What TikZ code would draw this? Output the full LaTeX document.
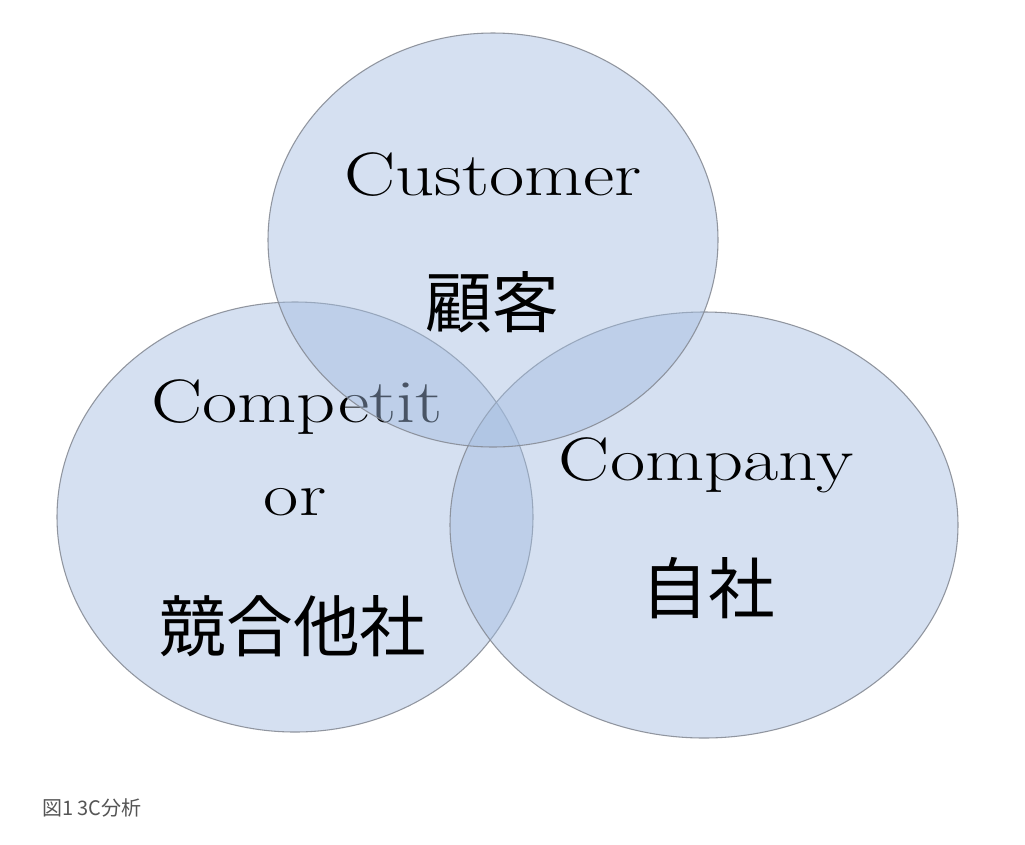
\documentclass[tikz,border=0pt]{standalone}
\usepackage{fontspec}
\usepackage{graphicx}
\newfontfamily\cjk{Noto Sans CJK JP}
\definecolor{vfill}{RGB}{162,188,224}
\definecolor{vedge}{RGB}{135,140,150}
\definecolor{capgray}{RGB}{85,85,85}
\begin{document}
\begin{tikzpicture}[x=0.75pt,y=-0.75pt,
  venn/.style={fill=vfill,fill opacity=0.45,draw=vedge,draw opacity=0.9,line width=0.8pt},
  latin/.style={anchor=base,inner sep=0pt,text=black,font=\fontsize{46}{52}\selectfont},
  kanji/.style={anchor=center,inner sep=0pt,text=black,font=\cjk\fontsize{50}{60}\selectfont},
  caption/.style={anchor=west,inner sep=0pt,text=capgray,font=\cjk\fontsize{15}{18}\selectfont}]
\useasboundingbox (0,0) rectangle (1025,844);
\fill[white] (0,0) rectangle (1025,844);
% left circle: Competitor
\path[venn] (295,517) ellipse [x radius=238, y radius=215];
\node[latin] (comp1) at (297,422) {\scalebox{1.25}[1]{Competit}};
\node[latin] (comp2) at (295,515) {\scalebox{1.25}[1]{or}};
\node[kanji] (comp3) at (293,626) {競合他社};
% right circle: Company
\path[venn] (704,525) ellipse [x radius=254, y radius=213];
\node[latin] (self1) at (706,480) {\scalebox{1.25}[1]{Company}};
\node[kanji] (self2) at (708,588) {自社};
% top circle: Customer
\path[venn] (493,240) ellipse [x radius=225, y radius=207];
\node[latin] (cust1) at (493,195) {\scalebox{1.25}[1]{Customer}};
\node[kanji] (cust2) at (492,302) {顧客};
% caption
\node[caption] (cap) at (42,808) {図1 3C分析};
\end{tikzpicture}
\end{document}
